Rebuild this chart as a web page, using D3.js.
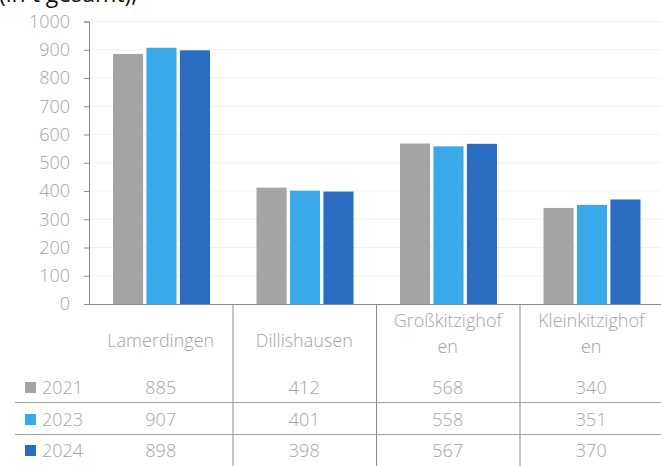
<!DOCTYPE html>
<html><head><meta charset="utf-8">
<script src="https://cdn.jsdelivr.net/npm/d3@7"></script>
<style>body{margin:0;background:#fff}svg{display:block}text{font-family:"Open Sans",sans-serif}</style>
</head><body><svg id="c" width="661" height="466"></svg>
<script>
const categories = ["Lamerdingen","Dillishausen","Großkitzighofen","Kleinkitzighofen"];
const categoryLabelLines = [["Lamerdingen"],["Dillishausen"],["Großkitzighof","en"],["Kleinkitzighof","en"]];
const seriesNames = ["2021","2023","2024"];
const values2021 = [885,412,568,340];
const values2023 = [907,401,558,351];
const values2024 = [898,398,567,370];
const yTicks = [0,100,200,300,400,500,600,700,800,900,1000];
const colors = ["#a5a4a5","#3aa9e9","#2a6cc2"];
const seriesValues = [values2021, values2023, values2024];

const svg = d3.select("#c");
const W = 661, H = 466;
const left = 89, right = 663, y0 = 304, yTop = 21.5;
const textCol = "#a3a3a3";
const fs = 18;

// cut-off title at top (cropped in the reference)
svg.append("text").attr("x",-1).attr("y",2).attr("font-size",23).attr("fill","#111").text("(in t gesamt),");

const x = d3.scaleBand().domain(categories).range([left,right]).padding(0);
const xi = d3.scaleBand().domain(seriesNames).range([24,121]).paddingInner(0.1);
const y = d3.scaleLinear().domain([0,1000]).range([y0,yTop]);

// gridlines
svg.append("g").selectAll("line").data(yTicks.slice(1)).join("line")
  .attr("x1",left).attr("x2",right).attr("y1",d=>y(d)).attr("y2",d=>y(d))
  .attr("stroke","#f1f1f1").attr("stroke-width",1);

// bars
const g = svg.append("g");
seriesNames.forEach((s,si)=>{
  g.selectAll(null).data(categories).join("rect")
    .attr("x",c=>x(c)+xi(s)).attr("width",xi.bandwidth())
    .attr("y",(c,i)=>y(seriesValues[si][i])).attr("height",(c,i)=>y0-y(seriesValues[si][i]))
    .attr("fill",colors[si]);
});

// y axis
const ax = svg.append("g").attr("transform",`translate(${left},0)`)
  .call(d3.axisLeft(y).tickValues(yTicks).tickSize(5).tickPadding(14).tickFormat(d3.format("d")));
ax.select(".domain").attr("stroke","#8a8a8a");
ax.selectAll(".tick line").attr("stroke","#8a8a8a");
ax.selectAll(".tick text").attr("fill",textCol).attr("font-size",fs).attr("font-family","'Open Sans',sans-serif").attr("font-weight",300);

// x axis baseline
svg.append("line").attr("x1",left-4).attr("x2",right).attr("y1",y0+0.5).attr("y2",y0+0.5).attr("stroke","#8a8a8a");

// table
const rowY = [394,426,457];
const sepY = [402.5,434.5];
categories.slice(1).forEach(c=>{
  svg.append("line").attr("x1",x(c)+0.5).attr("x2",x(c)+0.5).attr("y1",y0).attr("y2",H).attr("stroke","#8a8a8a");
});
sepY.forEach(sy=>{
  svg.append("line").attr("x1",15).attr("x2",right).attr("y1",sy).attr("y2",sy).attr("stroke","#a0a0a0").attr("stroke-width",1.2);
});
categories.forEach((c,i)=>{
  const lines = categoryLabelLines[i];
  const cx = x(c)+x.bandwidth()/2;
  const startY = lines.length===1 ? 347 : 327;
  lines.forEach((l,li)=>{
    svg.append("text").attr("x",cx).attr("y",startY+li*26).attr("text-anchor","middle")
      .attr("font-size",fs).attr("font-weight",300).attr("fill",textCol).text(l);
  });
});
seriesNames.forEach((s,si)=>{
  svg.append("rect").attr("x",25).attr("y",rowY[si]-12).attr("width",11).attr("height",11).attr("fill",colors[si]);
  svg.append("text").attr("x",42).attr("y",rowY[si]).attr("font-size",fs).attr("font-weight",300).attr("fill",textCol).text(s);
  categories.forEach((c,i)=>{
    svg.append("text").attr("x",x(c)+x.bandwidth()/2).attr("y",rowY[si]).attr("text-anchor","middle")
      .attr("font-size",fs).attr("font-weight",300).attr("fill",textCol).text(seriesValues[si][i]);
  });
});
</script></body></html>
